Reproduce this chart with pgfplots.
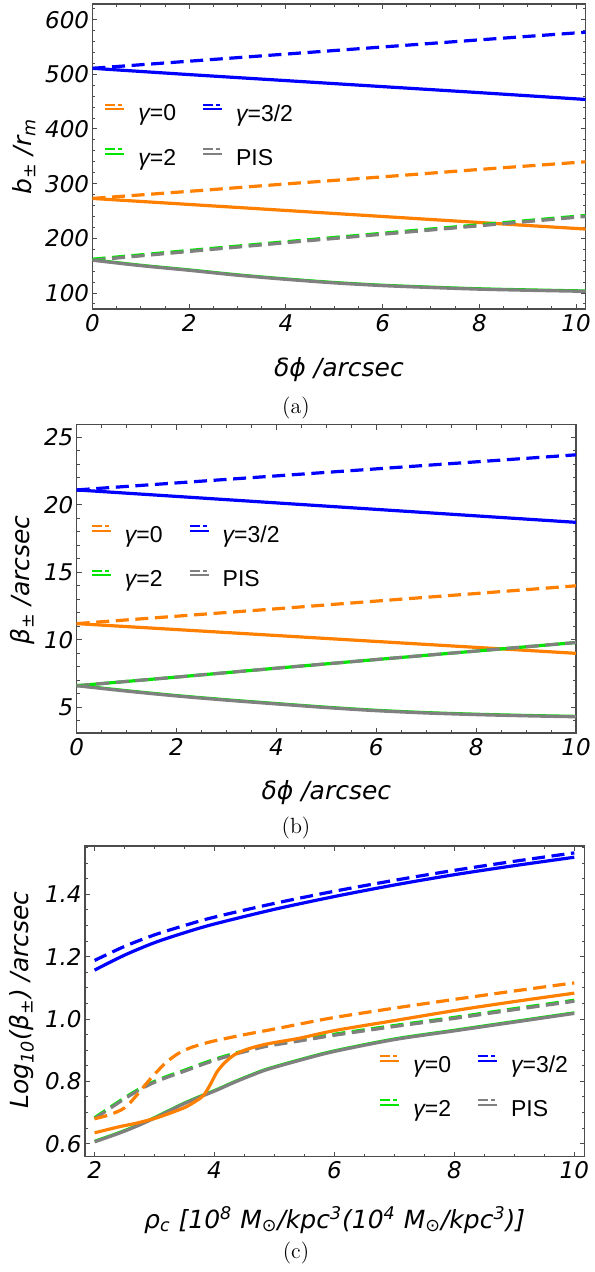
\documentclass[border=0pt]{standalone}
\usepackage{fontspec}
\setsansfont{DejaVu Sans}
\newfontfamily\legfont{Liberation Sans}
\usepackage{pgfplots}
\pgfplotsset{compat=1.18}

\definecolor{mOrange}{RGB}{255,128,0}
\definecolor{mBlue}{RGB}{0,0,255}
\definecolor{mGreen}{RGB}{0,230,0}
\definecolor{mGray}{RGB}{128,128,128}

\newcommand{\lbl}{\sffamily\itshape\fontsize{12.5}{14}\selectfont}
\newcommand{\tkf}{\sffamily\itshape\fontsize{11.5}{13}\selectfont}
\newcommand{\lgf}{\legfont\fontsize{11.5}{13}\selectfont}
\newcommand{\capf}{\rmfamily\fontsize{11}{13}\selectfont}
\newcommand{\sun}{{\upshape ⊙}}

\pgfplotsset{
  mframe/.style={
    scale only axis,
    axis line style={line width=0.6pt, black!70},
    tick pos=both, tick align=inside,
    major tick length=2.4pt, minor tick length=1.4pt,
    every tick/.style={black!70, line width=0.5pt},
    every tick label/.append style={font=\tkf},
    /pgf/number format/assume math mode=true,
    yticklabel style={inner xsep=1.5pt},
    xticklabel style={inner ysep=2.5pt},
    legend columns=2,
    legend cell align=left,
    legend style={draw=none, fill=none, inner sep=0pt,
      font=\lgf, row sep=8.5pt,
      /tikz/every odd column/.append style={column sep=4.5pt},
      /tikz/every even column/.append style={column sep=11pt}},
    legend image code/.code={%
      \draw[##1, line width=1pt, dash pattern=on 5pt off 1.5pt on 2pt off 9pt] (0pt,4.8pt) -- (9.5pt,4.8pt);
      \draw[##1, line width=1pt, solid] (0pt,2.5pt) -- (9.5pt,2.5pt);},
  },
  lsolid/.style={line width=1.6pt},
  ldash/.style={line width=1.6pt, dash pattern=on 6.5pt off 3.3pt},
}

% panel (a): b_pm / r_m
\pgfplotstableread{
x y
0 511
2 524
4 537
6 550
8 563
10.2 577
}\aBd
\pgfplotstableread{
x y
0 511
2 499.5
4 488.5
6 477.5
8 466.5
10.2 454
}\aBs
\pgfplotstableread{
x y
0 273
2 286
4 299.5
6 312.5
8 326
10.2 340
}\aOd
\pgfplotstableread{
x y
0 273
2 262
4 251
6 240
8 229
10.2 217
}\aOs
\pgfplotstableread{
x y
0 160
2 176
4 192
6 207.5
8 223
10.2 240
}\aGd
\pgfplotstableread{
x y
0 160
1 150
2 141.5
3 132.5
4 125
5 118.5
6 113.5
7 110
8 107
9 105
10.2 103
}\aGs

% panel (b): beta_pm / arcsec
\pgfplotstableread{
x y
0 21.1
2 21.62
4 22.14
6 22.66
8 23.18
10 23.7
}\bBd
\pgfplotstableread{
x y
0 21.1
2 20.62
4 20.14
6 19.66
8 19.18
10 18.7
}\bBs
\pgfplotstableread{
x y
0 11.2
2 11.75
4 12.3
6 12.87
8 13.43
10 14.0
}\bOd
\pgfplotstableread{
x y
0 11.2
2 10.76
4 10.32
6 9.88
8 9.44
10 9.0
}\bOs
\pgfplotstableread{
x y
0 6.6
2 7.24
4 7.9
6 8.54
8 9.17
10 9.8
}\bGd
\pgfplotstableread{
x y
0 6.6
1 6.2
2 5.84
3 5.53
4 5.25
5 4.98
6 4.75
7 4.58
8 4.46
9 4.37
10 4.3
}\bGs

% panel (c): log10(beta_pm) vs rho_c
\pgfplotstableread{
x y
2 1.188
2.5 1.233
3 1.270
3.5 1.300
4 1.327
5 1.371
6 1.410
7 1.445
8 1.477
9 1.506
10 1.533
}\cBd
\pgfplotstableread{
x y
2 1.157
2.5 1.205
3 1.245
3.5 1.277
4 1.305
5 1.352
6 1.393
7 1.430
8 1.463
9 1.492
10 1.519
}\cBs
\pgfplotstableread{
x y
2 0.680
2.25 0.693
2.5 0.715
2.7 0.755
2.85 0.790
3.0 0.823
3.2 0.862
3.4 0.890
3.6 0.908
3.8 0.920
4.0 0.930
4.5 0.950
5 0.968
5.5 0.987
6 1.005
7 1.035
8 1.063
9 1.090
10 1.116
}\cOd
\pgfplotstableread{
x y
2 0.635
2.4 0.654
2.7 0.666
3.0 0.681
3.2 0.694
3.5 0.716
3.7 0.738
3.82 0.756
3.93 0.790
4.04 0.830
4.16 0.858
4.32 0.884
4.5 0.900
4.7 0.912
4.93 0.922
5.43 0.939
6 0.963
7 0.995
8 1.027
9 1.056
10 1.083
}\cOs
\pgfplotstableread{
x y
2 0.680
2.38 0.729
2.66 0.763
2.93 0.791
3.21 0.813
3.49 0.832
3.77 0.852
4.04 0.870
4.32 0.886
4.6 0.900
4.88 0.913
5.43 0.930
6 0.948
7 0.976
8 1.002
9 1.030
10 1.057
}\cGd
\pgfplotstableread{
x y
2 0.606
2.4 0.633
2.7 0.656
3.0 0.682
3.2 0.701
3.5 0.729
3.77 0.751
4.04 0.772
4.32 0.796
4.6 0.818
4.88 0.838
5.43 0.868
6 0.896
7 0.934
8 0.962
9 0.990
10 1.018
}\cGs

\begin{document}
\begin{tikzpicture}
\path[use as bounding box] (0pt,0pt) rectangle (297pt,-636pt);

% ---------------- (a)
\begin{axis}[mframe, at={(46.25pt,-154.5pt)}, anchor=south west,
  width=246.6pt, height=152.5pt,
  xmin=0, xmax=10.2, ymin=70.8, ymax=628.6,
  xtick={0,2,...,10}, ytick={100,200,...,600},
  minor xtick={0,0.5,...,10}, minor ytick={80,100,...,620},
  legend style={at={(0.0233,0.566)}, anchor=west}]
\addlegendimage{color=mOrange}\addlegendentry{{\itshape γ}=0}
\addlegendimage{color=mBlue}\addlegendentry{{\itshape γ}=3/2}
\addlegendimage{color=mGreen}\addlegendentry{{\itshape γ}=2}
\addlegendimage{color=mGray}\addlegendentry{PIS}
\addplot[mBlue, ldash, smooth] table {\aBd};
\addplot[mBlue, lsolid, smooth] table {\aBs};
\addplot[mOrange, ldash, smooth] table {\aOd};
\addplot[mOrange, lsolid, smooth] table {\aOs};
\addplot[mGreen, ldash, yshift=0.5pt] table {\aGd};
\addplot[mGray, ldash] table {\aGd};
\addplot[mGreen, line width=0.8pt, smooth, yshift=0.6pt] table {\aGs};
\addplot[mGray, lsolid, smooth] table {\aGs};
\end{axis}
\node[rotate=90, font=\lbl] at (12pt,-78.25pt) {b\textsubscript{±} /r\textsubscript{m}};
\node[font=\lbl] at (169.5pt,-185pt) {δϕ /arcsec};
\node[font=\capf] at (148pt,-204pt) {(a)};

% ---------------- (b)
\begin{axis}[mframe, at={(38.35pt,-366.5pt)}, anchor=south west,
  width=249.65pt, height=154.15pt,
  xmin=0, xmax=10, ymin=3.1, ymax=25.93,
  xtick={0,2,...,10}, ytick={5,10,...,25},
  minor xtick={0,0.5,...,10}, minor ytick={4,5,...,25},
  legend style={at={(0.0278,0.568)}, anchor=west}]
\addlegendimage{color=mOrange}\addlegendentry{{\itshape γ}=0}
\addlegendimage{color=mBlue}\addlegendentry{{\itshape γ}=3/2}
\addlegendimage{color=mGreen}\addlegendentry{{\itshape γ}=2}
\addlegendimage{color=mGray}\addlegendentry{PIS}
\addplot[mBlue, ldash] table {\bBd};
\addplot[mBlue, lsolid] table {\bBs};
\addplot[mOrange, ldash, smooth] table {\bOd};
\addplot[mOrange, lsolid] table {\bOs};
\addplot[mGreen, line width=1.6pt] table {\bGd};
\addplot[mGray, ldash] table {\bGd};
\addplot[mGreen, line width=0.8pt, smooth, yshift=0.6pt] table {\bGs};
\addplot[mGray, lsolid, smooth] table {\bGs};
\end{axis}
\node[rotate=90, font=\lbl] at (11.5pt,-290pt) {β\textsubscript{±} /arcsec};
\node[font=\lbl] at (163.2pt,-396.5pt) {δϕ /arcsec};
\node[font=\capf] at (148pt,-414pt) {(b)};

% ---------------- (c)
\begin{axis}[mframe, at={(42.5pt,-578.25pt)}, anchor=south west,
  width=249.75pt, height=155.25pt,
  xmin=1.84, xmax=10.17, ymin=0.559, ymax=1.555,
  xtick={2,4,...,10}, ytick={0.6,0.8,1.0,1.2,1.4},
  minor xtick={2,2.5,...,10}, minor ytick={0.6,0.65,...,1.55},
  yticklabel style={/pgf/number format/.cd, fixed, fixed zerofill, precision=1},
  legend style={at={(0.5886,0.222)}, anchor=west}]
\addlegendimage{color=mOrange}\addlegendentry{{\itshape γ}=0}
\addlegendimage{color=mBlue}\addlegendentry{{\itshape γ}=3/2}
\addlegendimage{color=mGreen}\addlegendentry{{\itshape γ}=2}
\addlegendimage{color=mGray}\addlegendentry{PIS}
\addplot[mBlue, ldash, smooth] table {\cBd};
\addplot[mBlue, lsolid, smooth] table {\cBs};
\addplot[mGreen, ldash, yshift=0.5pt, smooth] table {\cGd};
\addplot[mGray, ldash, smooth] table {\cGd};
\addplot[mOrange, ldash, smooth] table {\cOd};
\addplot[mGreen, line width=0.8pt, smooth, yshift=0.7pt] table {\cGs};
\addplot[mGray, lsolid, smooth] table {\cGs};
\addplot[mOrange, lsolid, smooth] table {\cOs};
\end{axis}
\node[rotate=90, font=\lbl] at (11pt,-500pt) {Log\textsubscript{10}(β\textsubscript{±}) /arcsec};
\node[font=\lbl] at (167.35pt,-610pt) {ρ\textsubscript{c} [10\textsuperscript{8} M\textsubscript{\sun}/kpc\textsuperscript{3}(10\textsuperscript{4} M\textsubscript{\sun}/kpc\textsuperscript{3})]};
\node[font=\capf] at (148pt,-626.5pt) {(c)};
\end{tikzpicture}
\end{document}
